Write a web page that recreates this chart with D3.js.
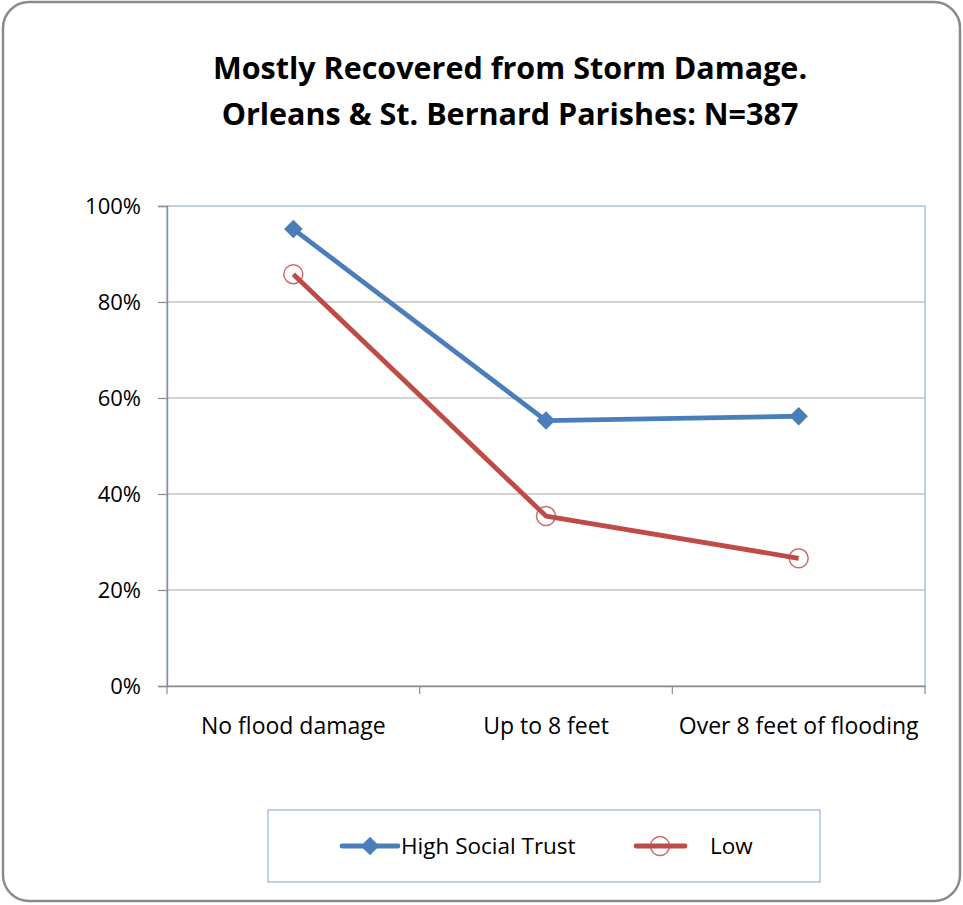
<!DOCTYPE html>
<html>
<head>
<meta charset="utf-8">
<script src="https://cdn.jsdelivr.net/npm/d3@7"></script>
<style>
  html, body { margin: 0; padding: 0; background: #fff; }
  svg text { font-family: "Open Sans", Lato, sans-serif; fill: #000; }
</style>
</head>
<body>
<svg id="chart" width="963" height="905"></svg>
<script>
// Share of residents mostly recovered, by flood depth and social trust
const categories = ["No flood damage", "Up to 8 feet", "Over 8 feet of flooding"];
const highTrust = [0.952, 0.553, 0.562];
const lowTrust = [0.858, 0.354, 0.266];
const yTicks = [0, 0.2, 0.4, 0.6, 0.8, 1.0];
const titleLines = ["Mostly Recovered from Storm Damage.", "Orleans & St. Bernard Parishes: N=387"];
const seriesNames = ["High Social Trust", "Low"];

const blue = "#4a7ebb";
const red = "#be4b48";
const svg = d3.select("#chart");

// Outer rounded frame
svg.append("rect")
  .attr("x", 3).attr("y", 2).attr("width", 957).attr("height", 899)
  .attr("rx", 26).attr("ry", 26)
  .attr("fill", "#fff").attr("stroke", "#8a8a8a").attr("stroke-width", 2.5);

// Title
const title = svg.append("g");
titleLines.forEach((t, i) => {
  title.append("text")
    .attr("x", 510).attr("y", 79 + i * 45.5)
    .attr("text-anchor", "middle")
    .attr("font-size", 30.5)
    .attr("font-weight", "bold")
    .text(t);
});

// Plot area
const plot = { left: 167, right: 925, top: 206, bottom: 686 };
const x = d3.scaleBand().domain(categories).range([plot.left, plot.right]);
const y = d3.scaleLinear().domain([0, 1]).range([plot.bottom, plot.top]);

// Horizontal gridlines
svg.append("g").selectAll("line").data(yTicks.filter(d => d > 0 && d < 1)).join("line")
  .attr("x1", plot.left).attr("x2", plot.right)
  .attr("y1", d => y(d)).attr("y2", d => y(d))
  .attr("stroke", "#a6a6a6").attr("stroke-width", 1.2);

// Plot-area border (light blue)
svg.append("rect")
  .attr("x", plot.left).attr("y", plot.top)
  .attr("width", plot.right - plot.left).attr("height", plot.bottom - plot.top)
  .attr("fill", "none").attr("stroke", "#95b3d7").attr("stroke-width", 1.2);

// Y axis
const yAxis = svg.append("g")
  .attr("transform", `translate(${plot.left},0)`)
  .call(d3.axisLeft(y).tickValues(yTicks).tickFormat(d3.format(".0%")).tickSize(9).tickPadding(17));
yAxis.select(".domain").attr("stroke", "#8c8c8c").attr("stroke-width", 1.4);
yAxis.selectAll(".tick line").attr("stroke", "#8c8c8c").attr("stroke-width", 1.2);
yAxis.selectAll(".tick text").attr("font-size", 22).attr("font-family", "'Open Sans', sans-serif").attr("fill", "#111");

// X axis
const xAxis = svg.append("g")
  .attr("transform", `translate(0,${plot.bottom})`)
  .call(d3.axisBottom(x).tickSize(0).tickPadding(32));
xAxis.select(".domain").attr("stroke", "#8c8c8c").attr("stroke-width", 1.4);
xAxis.selectAll(".tick text").attr("font-size", 23).attr("font-family", "'Open Sans', sans-serif").attr("fill", "#111");
// category boundary ticks
const bounds = categories.map(c => x(c)).concat([plot.right]);
xAxis.append("g").selectAll("line").data(bounds).join("line")
  .attr("x1", d => d).attr("x2", d => d).attr("y1", 0).attr("y2", 8)
  .attr("stroke", "#8c8c8c").attr("stroke-width", 1.2);

const cx = c => x(c) + x.bandwidth() / 2;
const line = d3.line().x((d, i) => cx(categories[i])).y(d => y(d));

// Series lines
svg.append("path").datum(highTrust).attr("d", line)
  .attr("fill", "none").attr("stroke", blue).attr("stroke-width", 4.8).attr("stroke-linejoin", "round");
svg.append("path").datum(lowTrust).attr("d", line)
  .attr("fill", "none").attr("stroke", red).attr("stroke-width", 4.8).attr("stroke-linejoin", "round");

// Markers
const diamond = d3.symbol().type(d3.symbolDiamond2).size(220);
svg.append("g").selectAll("path").data(highTrust).join("path")
  .attr("transform", (d, i) => `translate(${cx(categories[i])},${y(d)})`)
  .attr("d", diamond).attr("fill", blue);
svg.append("g").selectAll("circle").data(lowTrust).join("circle")
  .attr("cx", (d, i) => cx(categories[i])).attr("cy", d => y(d)).attr("r", 9.5)
  .attr("fill", "none").attr("stroke", red).attr("stroke-width", 1.5).attr("stroke-opacity", 0.8);

// Legend
svg.append("rect")
  .attr("x", 268).attr("y", 810).attr("width", 552).attr("height", 72)
  .attr("fill", "#fff").attr("stroke", "#95b3d7").attr("stroke-width", 1.2);
const legendY = 846;
const lg = svg.append("g");
// High social trust entry
lg.append("line").attr("x1", 342).attr("x2", 398).attr("y1", legendY).attr("y2", legendY)
  .attr("stroke", blue).attr("stroke-width", 4.8).attr("stroke-linecap", "round");
lg.append("path").attr("transform", `translate(370,${legendY})`).attr("d", diamond).attr("fill", blue);
lg.append("text").attr("x", 401).attr("y", legendY + 8).attr("font-size", 22.5).attr("fill", "#111").text(seriesNames[0]);
// Low entry
lg.append("line").attr("x1", 636).attr("x2", 685).attr("y1", legendY).attr("y2", legendY)
  .attr("stroke", red).attr("stroke-width", 4.8).attr("stroke-linecap", "round");
lg.append("circle").attr("cx", 660).attr("cy", legendY).attr("r", 9.5)
  .attr("fill", "none").attr("stroke", red).attr("stroke-width", 1.5).attr("stroke-opacity", 0.8);
lg.append("text").attr("x", 710).attr("y", legendY + 8).attr("font-size", 22.5).attr("fill", "#111").text(seriesNames[1]);
</script>
</body>
</html>
